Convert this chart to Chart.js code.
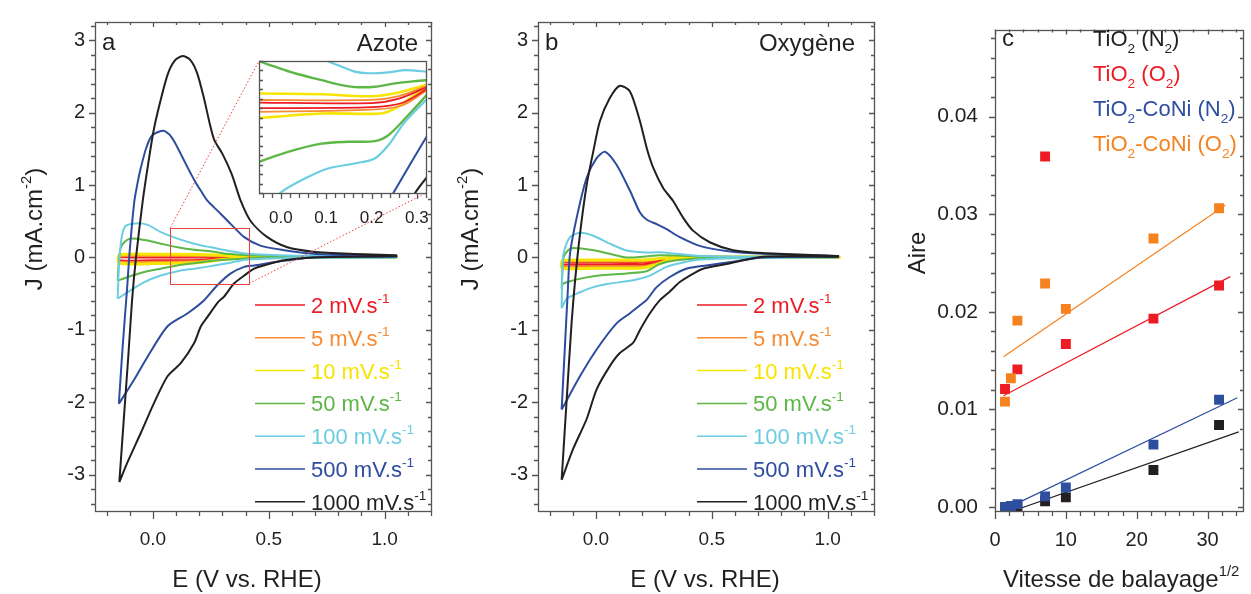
<!DOCTYPE html>
<html>
<head>
<meta charset="utf-8">
<script src="https://cdn.jsdelivr.net/npm/chart.js@4.4.1/dist/chart.umd.min.js"></script>
<style>
  html, body { margin: 0; padding: 0; background: #fff; }
  #wrap { position: relative; width: 1251px; height: 594px; }
  #wrap canvas { position: absolute; left: 0; top: 0; }
</style>
</head>
<body>
<div id="wrap">
  <canvas id="chartA" width="1251" height="594"></canvas>
  <canvas id="chartB" width="1251" height="594"></canvas>
  <canvas id="chartC" width="1251" height="594"></canvas>
  <canvas id="chartInset" width="1251" height="594"></canvas>
</div>
<script>
// ---------- data : cyclic voltammograms, [E (V vs RHE), J (mA/cm2)] ----------
const rateLabels = ['2', '5', '10', '50', '100', '500', '1000'];
const rateColors = ['#ed1c24', '#f68b33', '#f7e400', '#5db746', '#6ccde0', '#2e4c9e', '#231f20'];

// a : Azote
const azote2 = [[-0.15,-0.04],[-0.146,0.0],[-0.1,0.0],[0.0,0.0],[0.2,0.0],[0.3,0.01],[0.45,0.01],[1.05,0.01],[1.05,0.0],[0.45,0.0],[0.3,-0.01],[0.2,-0.035],[0.0,-0.04],[-0.1,-0.045],[-0.15,-0.04]];
const azote5 = [[-0.15,-0.06],[-0.146,0.01],[-0.1,0.02],[0.0,0.02],[0.2,0.018],[0.3,0.015],[0.45,0.01],[1.05,0.01],[1.05,0.0],[0.45,-0.003],[0.3,-0.02],[0.2,-0.05],[0.0,-0.06],[-0.1,-0.065],[-0.15,-0.06]];
const azote10 = [[-0.15,-0.08],[-0.146,0.03],[-0.1,0.045],[0.0,0.045],[0.2,0.04],[0.3,0.03],[0.45,0.01],[1.05,0.01],[1.05,0.0],[0.45,-0.005],[0.3,-0.03],[0.2,-0.07],[0.0,-0.085],[-0.1,-0.09],[-0.15,-0.08]];
const azote50 = [[-0.152,-0.32],[-0.148,-0.1],[-0.14,0.12],[-0.124,0.21],[-0.095,0.26],[-0.037,0.24],[0.034,0.19],[0.106,0.14],[0.178,0.105],[0.25,0.087],[0.32,0.05],[0.41,0.03],[0.6,0.015],[1.05,0.01],[1.05,0.0],[0.6,-0.002],[0.41,-0.01],[0.32,-0.03],[0.25,-0.05],[0.178,-0.08],[0.106,-0.11],[0.034,-0.155],[-0.037,-0.2],[-0.109,-0.27],[-0.152,-0.32]];
const azote100 = [[-0.152,-0.57],[-0.148,-0.2],[-0.14,0.15],[-0.13,0.35],[-0.116,0.44],[-0.073,0.47],[-0.023,0.45],[0.034,0.35],[0.106,0.26],[0.178,0.19],[0.25,0.14],[0.32,0.096],[0.41,0.05],[0.54,0.03],[0.7,0.02],[1.05,0.02],[1.05,0.0],[0.7,-0.005],[0.54,-0.01],[0.41,-0.03],[0.32,-0.08],[0.25,-0.12],[0.178,-0.155],[0.106,-0.19],[0.034,-0.25],[-0.037,-0.34],[-0.095,-0.45],[-0.152,-0.57]];
const azote500 = [[-0.147,-2.02],[-0.13,-1.2],[-0.112,-0.45],[-0.1,0.1],[-0.08,0.78],[-0.065,1.05],[-0.052,1.24],[-0.03,1.5],[-0.005,1.68],[0.042,1.75],[0.07,1.7],[0.092,1.6],[0.12,1.43],[0.15,1.24],[0.18,1.06],[0.207,0.92],[0.236,0.78],[0.293,0.6],[0.336,0.46],[0.394,0.28],[0.466,0.16],[0.566,0.1],[0.69,0.05],[0.85,0.03],[1.05,0.02],[1.05,0.01],[0.69,0.0],[0.537,-0.06],[0.437,-0.11],[0.394,-0.13],[0.336,-0.22],[0.279,-0.38],[0.221,-0.59],[0.15,-0.77],[0.063,-0.95],[-0.023,-1.37],[-0.08,-1.68],[-0.147,-2.02]];
const azote1000 = [[-0.145,-3.1],[-0.125,-2.2],[-0.106,-1.35],[-0.09,-0.59],[-0.073,0.0],[-0.044,0.78],[-0.023,1.24],[0.0,1.7],[0.02,2.0],[0.063,2.52],[0.095,2.72],[0.128,2.78],[0.16,2.73],[0.19,2.55],[0.22,2.2],[0.245,1.85],[0.265,1.62],[0.3,1.43],[0.34,1.15],[0.379,0.78],[0.422,0.5],[0.494,0.28],[0.58,0.14],[0.69,0.08],[0.85,0.05],[1.05,0.03],[1.05,0.02],[0.69,0.0],[0.566,-0.04],[0.48,-0.11],[0.437,-0.155],[0.394,-0.25],[0.35,-0.36],[0.307,-0.54],[0.28,-0.62],[0.24,-0.8],[0.207,-0.95],[0.178,-1.18],[0.12,-1.46],[0.063,-1.64],[0.006,-2.0],[-0.052,-2.42],[-0.11,-2.83],[-0.145,-3.1]];

// b : Oxygène
const oxy2 = [[-0.15,-0.1],[-0.146,-0.07],[-0.1,-0.07],[0.0,-0.07],[0.2,-0.07],[0.26,-0.04],[0.32,-0.005],[0.45,0.0],[1.05,0.0],[1.05,-0.003],[0.45,-0.005],[0.32,-0.02],[0.26,-0.07],[0.2,-0.1],[0.0,-0.1],[-0.1,-0.1],[-0.15,-0.1]];
const oxy5 = [[-0.15,-0.12],[-0.146,-0.06],[-0.1,-0.055],[0.0,-0.055],[0.2,-0.055],[0.26,-0.03],[0.32,-0.003],[0.45,0.003],[1.05,0.003],[1.05,-0.003],[0.45,-0.006],[0.32,-0.025],[0.26,-0.085],[0.2,-0.12],[0.0,-0.12],[-0.1,-0.125],[-0.15,-0.12]];
const oxy10 = [[-0.15,-0.15],[-0.146,-0.05],[-0.12,-0.035],[0.0,-0.035],[0.2,-0.035],[0.26,-0.02],[0.32,0.0],[0.45,0.005],[1.05,0.005],[1.05,0.0],[0.45,-0.005],[0.32,-0.03],[0.26,-0.1],[0.2,-0.145],[0.0,-0.15],[-0.12,-0.155],[-0.15,-0.15]];
const oxy50 = [[-0.148,-0.43],[-0.145,-0.2],[-0.14,0.0],[-0.12,0.1],[-0.098,0.13],[-0.011,0.1],[0.06,0.05],[0.132,0.0],[0.204,0.01],[0.276,0.03],[0.419,0.02],[0.6,0.01],[1.045,0.01],[1.045,0.0],[0.5,-0.005],[0.348,-0.04],[0.276,-0.09],[0.218,-0.19],[0.132,-0.22],[-0.011,-0.26],[-0.141,-0.36],[-0.148,-0.43]];
const oxy100 = [[-0.148,-0.7],[-0.145,-0.2],[-0.14,0.05],[-0.112,0.28],[-0.069,0.34],[-0.011,0.3],[0.06,0.19],[0.132,0.096],[0.204,0.07],[0.276,0.07],[0.348,0.05],[0.45,0.02],[0.7,0.01],[1.045,0.01],[1.045,0.0],[0.6,-0.01],[0.45,-0.03],[0.39,-0.06],[0.305,-0.13],[0.233,-0.25],[0.161,-0.315],[0.06,-0.36],[-0.011,-0.41],[-0.069,-0.48],[-0.126,-0.57],[-0.148,-0.7]];
const oxy500 = [[-0.148,-2.1],[-0.135,-1.3],[-0.122,-0.5],[-0.112,0.05],[-0.083,0.55],[-0.04,1.1],[0.003,1.37],[0.039,1.46],[0.089,1.28],[0.147,0.92],[0.19,0.62],[0.22,0.52],[0.262,0.46],[0.305,0.39],[0.362,0.28],[0.448,0.16],[0.563,0.09],[0.72,0.05],[1.045,0.02],[1.045,0.01],[0.72,0.0],[0.592,-0.06],[0.477,-0.11],[0.39,-0.155],[0.319,-0.27],[0.262,-0.41],[0.218,-0.59],[0.19,-0.66],[0.147,-0.77],[0.089,-0.91],[0.003,-1.27],[-0.069,-1.64],[-0.148,-2.1]];
const oxy1000 = [[-0.148,-3.07],[-0.125,-1.9],[-0.105,-0.9],[-0.09,-0.32],[-0.069,0.32],[-0.04,1.0],[-0.011,1.47],[0.017,1.88],[0.06,2.2],[0.103,2.37],[0.147,2.29],[0.19,1.88],[0.22,1.5],[0.247,1.24],[0.29,0.96],[0.333,0.78],[0.376,0.55],[0.419,0.37],[0.491,0.21],[0.592,0.1],[0.72,0.06],[1.045,0.02],[1.045,0.01],[0.72,0.01],[0.563,-0.09],[0.462,-0.155],[0.405,-0.25],[0.362,-0.34],[0.319,-0.47],[0.276,-0.59],[0.233,-0.77],[0.19,-1.0],[0.16,-1.18],[0.103,-1.32],[0.06,-1.5],[0.003,-1.82],[-0.04,-2.23],[-0.098,-2.64],[-0.148,-3.07]];

// inset of a (zoom on the low-rate region)
const insetRed = [[[-0.06,-0.012],[0.2,-0.014],[0.26,0.0],[0.33,0.042]], [[-0.06,-0.03],[0.2,-0.027],[0.27,-0.012],[0.33,0.038]]];
const insetOrange = [[[-0.06,-0.004],[0.2,-0.004],[0.26,0.008],[0.33,0.045]], [[-0.06,-0.042],[0.2,-0.035],[0.27,-0.02],[0.33,0.036]]];
const insetYellow = [[[-0.06,0.017],[0.09,0.014],[0.2,0.008],[0.26,0.02],[0.33,0.048]], [[-0.06,-0.063],[0.09,-0.047],[0.22,-0.047],[0.252,-0.031],[0.296,0.012],[0.33,0.04]]];
const insetGreen = [[[-0.06,0.135],[-0.048,0.12],[-0.013,0.102],[0.031,0.081],[0.09,0.059],[0.134,0.043],[0.163,0.037],[0.207,0.038],[0.252,0.049],[0.296,0.056],[0.33,0.06]], [[-0.06,-0.21],[-0.048,-0.201],[0.016,-0.169],[0.09,-0.143],[0.148,-0.137],[0.207,-0.135],[0.237,-0.116],[0.274,-0.063],[0.33,0.025]]];
const insetCyan = [[[0.08,0.145],[0.104,0.12],[0.134,0.102],[0.163,0.086],[0.193,0.081],[0.237,0.084],[0.274,0.091],[0.33,0.085]], [[-0.02,-0.33],[0.001,-0.297],[0.053,-0.254],[0.104,-0.222],[0.163,-0.206],[0.207,-0.19],[0.237,-0.148],[0.274,-0.073],[0.33,0.01]]];
const insetBlue = [[[0.235,-0.33],[0.248,-0.3],[0.288,-0.201],[0.33,-0.1]]];
const insetBlack = [[[0.29,-0.33],[0.296,-0.3],[0.33,-0.235]]];

// c : Aire vs sqrt(scan rate)
const sqrtRate = [1.41, 2.24, 3.16, 7.07, 10.0, 22.36, 31.62];
const aireTiO2N2 = [0.0000, 0.0001, 0.0001, 0.0006, 0.0010, 0.0038, 0.0084];
const aireTiO2O2 = [0.0121, null, 0.0141, 0.0359, 0.0167, 0.0193, 0.0227];
const aireCoNiN2 = [0.0000, 0.0001, 0.0003, 0.0011, 0.0020, 0.0064, 0.0110];
const aireCoNiO2 = [0.0108, 0.0132, 0.0191, 0.0229, 0.0203, 0.0275, 0.0306];
const fitTiO2N2 = [[2.6, -0.00037], [34.4, 0.0077]];
const fitTiO2O2 = [[1.2, 0.0114], [33.2, 0.0236]];
const fitCoNiN2 = [[2.0, 0.0000], [34.2, 0.0112]];
const fitCoNiO2 = [[1.2, 0.0154], [32.5, 0.0309]];
const seriesNames = [
  [{t: 'TiO'}, {t: '2', sub: true}, {t: ' (N'}, {t: '2', sub: true}, {t: ')'}],
  [{t: 'TiO'}, {t: '2', sub: true}, {t: ' (O'}, {t: '2', sub: true}, {t: ')'}],
  [{t: 'TiO'}, {t: '2', sub: true}, {t: '-CoNi (N'}, {t: '2', sub: true}, {t: ')'}],
  [{t: 'TiO'}, {t: '2', sub: true}, {t: '-CoNi (O'}, {t: '2', sub: true}, {t: ')'}],
];
const seriesColors = ['#231f20', '#ed1c24', '#2e4fa0', '#f5821f'];

// ---------- helpers ----------
const FONT = "'Liberation Sans', Arial, Helvetica, sans-serif";
const INK = '#231f20';
const AXIS = '#555555';
Chart.defaults.font.family = FONT;
Chart.defaults.color = INK;

const toXY = arr => arr.map(p => ({ x: p[0], y: p[1] }));
const zipXY = (xs, ys) => xs.map((x, i) => ({ x, y: ys[i] })).filter(p => p.y !== null);

function drawRich(ctx, parts, x, y, size, color, align) {
  let w = 0;
  const m = parts.map(p => {
    const s = (p.sup || p.sub) ? size * 0.62 : size;
    ctx.font = s + 'px ' + FONT;
    const pw = ctx.measureText(p.t).width;
    w += pw;
    return { p, s, pw };
  });
  let cx = align === 'center' ? x - w / 2 : align === 'right' ? x - w : x;
  const base = y + size * 0.36;
  ctx.fillStyle = color;
  ctx.textAlign = 'left';
  ctx.textBaseline = 'alphabetic';
  m.forEach(({ p, s, pw }) => {
    ctx.font = s + 'px ' + FONT;
    const dy = p.sup ? -size * 0.45 : p.sub ? size * 0.33 : 0;
    ctx.fillText(p.t, cx, base + dy);
    cx += pw;
  });
}

// box + ticks on the four sides
function makeFrame(cfg) {
  return {
    id: 'frame',
    afterDraw(chart) {
      const { ctx, chartArea: a, scales: { x, y } } = chart;
      ctx.save();
      ctx.strokeStyle = cfg.color || AXIS;
      ctx.lineWidth = cfg.width || 1.3;
      ctx.strokeRect(Math.round(a.left) + 0.5, Math.round(a.top) + 0.5, Math.round(a.right - a.left), Math.round(a.bottom - a.top));
      ctx.beginPath();
      const walk = (scale, minor, major, fn) => {
        const k0 = Math.ceil(scale.min / minor - 1e-6);
        for (let k = k0; k * minor <= scale.max + 1e-9; k++) {
          const v = k * minor;
          const isMajor = major ? Math.abs(v / major - Math.round(v / major)) < 1e-6 : false;
          fn(Math.round(scale.getPixelForValue(v)) + 0.5, isMajor);
        }
      };
      walk(x, cfg.xMinor, cfg.xMajor, (px, mj) => {
        const l = mj ? cfg.xOut[0] : cfg.xOut[1];
        ctx.moveTo(px, a.bottom); ctx.lineTo(px, a.bottom + l);
        if (cfg.inner) { const li = mj ? 5 : 3; ctx.moveTo(px, a.top); ctx.lineTo(px, a.top + li); }
      });
      walk(y, cfg.yMinor, cfg.yMajor, (py, mj) => {
        const l = mj ? cfg.yOut[0] : cfg.yOut[1];
        ctx.moveTo(a.left, py); ctx.lineTo(a.left + (cfg.yInward ? l : -l), py);
        if (cfg.inner) { const li = mj ? 5 : 3; ctx.moveTo(a.right, py); ctx.lineTo(a.right - li, py); }
      });
      ctx.stroke();
      ctx.restore();
    }
  };
}

function makeDecor(drawFn) {
  return { id: 'decor', afterDraw(chart) { const ctx = chart.ctx; ctx.save(); drawFn(chart, ctx); ctx.restore(); } };
}

function cvDatasets(loops) {
  const widths = [2, 2, 3, 2, 2, 2, 2];
  return loops.map((loop, i) => ({
    data: toXY(loop), showLine: true, borderColor: rateColors[i], borderWidth: widths[i],
    pointRadius: 0, tension: 0.25, fill: false
  })).reverse();
}

function cvOptions(left, right) {
  return {
    responsive: false, animation: false, devicePixelRatio: 1,
    layout: { padding: { left: left - 60, right: 1251 - right, top: 19, bottom: 33 } },
    plugins: { legend: { display: false }, tooltip: { enabled: false } },
    scales: {
      x: {
        type: 'linear', min: -0.25, max: 1.2,
        afterFit: s => { s.height = 50; },
        grid: { display: false, drawTicks: false }, border: { display: false },
        ticks: { stepSize: 0.5, includeBounds: false, padding: 17, maxRotation: 0, font: { size: 19 }, callback: v => v.toFixed(1) }
      },
      y: {
        type: 'linear', min: -3.5, max: 3.25,
        afterFit: s => { s.width = 60; },
        grid: { display: false, drawTicks: false }, border: { display: false },
        ticks: { stepSize: 1, includeBounds: false, padding: 10, font: { size: 20 }, callback: v => String(v) }
      }
    }
  };
}

function drawCvText(ctx, o) {
  drawRich(ctx, [{ t: o.letter }], o.letterX, 41, 24, INK, 'left');
  drawRich(ctx, [{ t: o.gas }], o.gasX, 42, 24, INK, 'right');
  ctx.save();
  ctx.translate(o.yTitleX, 229);
  ctx.rotate(-Math.PI / 2);
  drawRich(ctx, [{ t: 'J (mA.cm' }, { t: '-2', sup: true }, { t: ')' }], 0, 0, 24, INK, 'center');
  ctx.restore();
  drawRich(ctx, [{ t: 'E (V vs. RHE)' }], o.xTitleX, 578, 24, INK, 'center');
  rateLabels.forEach((r, i) => {
    const yy = 305 + i * 32.8;
    ctx.strokeStyle = rateColors[i];
    ctx.lineWidth = 1.5;
    ctx.beginPath(); ctx.moveTo(o.legX, yy); ctx.lineTo(o.legX + 50, yy); ctx.stroke();
    drawRich(ctx, [{ t: r + ' mV.s' }, { t: '-1', sup: true }], o.legX + 56, yy, 22, rateColors[i], 'left');
  });
}

// ---------- panel a ----------
new Chart(document.getElementById('chartA'), {
  type: 'scatter',
  data: { datasets: cvDatasets([azote2, azote5, azote10, azote50, azote100, azote500, azote1000]) },
  options: cvOptions(95, 431),
  plugins: [
    makeFrame({ xMinor: 0.1, xMajor: 0.5, yMinor: 0.2, yMajor: 1, xOut: [8, 5], yOut: [6, 4], inner: true }),
    makeDecor((chart, ctx) => {
      const { x, y } = chart.scales;
      // zoom box and its link to the inset
      const bx0 = x.getPixelForValue(0.075), bx1 = x.getPixelForValue(0.415);
      const by0 = y.getPixelForValue(0.41), by1 = y.getPixelForValue(-0.36);
      ctx.strokeStyle = '#e8403a'; ctx.lineWidth = 1;
      ctx.strokeRect(Math.round(bx0) + 0.5, Math.round(by0) + 0.5, Math.round(bx1 - bx0), Math.round(by1 - by0));
      ctx.setLineDash([1.5, 2]);
      ctx.beginPath();
      ctx.moveTo(bx0, by0); ctx.lineTo(259, 61);
      ctx.moveTo(bx1, by1); ctx.lineTo(426, 193);
      ctx.stroke();
      ctx.setLineDash([]);
      drawCvText(ctx, { letter: 'a', letterX: 102, gas: 'Azote', gasX: 418, yTitleX: 33, xTitleX: 247, legX: 255 });
    })
  ]
});

// ---------- panel b ----------
new Chart(document.getElementById('chartB'), {
  type: 'scatter',
  data: { datasets: cvDatasets([oxy2, oxy5, oxy10, oxy50, oxy100, oxy500, oxy1000]) },
  options: cvOptions(538, 874),
  plugins: [
    makeFrame({ xMinor: 0.1, xMajor: 0.5, yMinor: 0.2, yMajor: 1, xOut: [8, 5], yOut: [6, 4], inner: true }),
    makeDecor((chart, ctx) => {
      drawCvText(ctx, { letter: 'b', letterX: 545, gas: 'Oxygène', gasX: 855, yTitleX: 469, xTitleX: 705, legX: 697 });
    })
  ]
});

// ---------- panel c ----------
const ptStyle = (c) => ({ showLine: false, pointStyle: 'rect', pointRadius: 7, pointBackgroundColor: c, pointBorderColor: c, pointBorderWidth: 0 });
const fitStyle = (c) => ({ showLine: true, pointRadius: 0, borderColor: c, borderWidth: 1.2, tension: 0 });
new Chart(document.getElementById('chartC'), {
  type: 'scatter',
  data: {
    datasets: [
      { data: zipXY(sqrtRate, aireCoNiO2), ...ptStyle(seriesColors[3]) },
      { data: zipXY(sqrtRate, aireCoNiN2), ...ptStyle(seriesColors[2]) },
      { data: zipXY(sqrtRate, aireTiO2O2), ...ptStyle(seriesColors[1]) },
      { data: zipXY(sqrtRate, aireTiO2N2), ...ptStyle(seriesColors[0]) },
      { data: toXY(fitCoNiO2), ...fitStyle(seriesColors[3]) },
      { data: toXY(fitCoNiN2), ...fitStyle(seriesColors[2]) },
      { data: toXY(fitTiO2O2), ...fitStyle(seriesColors[1]) },
      { data: toXY(fitTiO2N2), ...fitStyle(seriesColors[0]) },
    ]
  },
  options: {
    responsive: false, animation: false, devicePixelRatio: 1,
    layout: { padding: { left: 995 - 60, right: 1251 - 1243, top: 19, bottom: 33 } },
    plugins: { legend: { display: false }, tooltip: { enabled: false } },
    scales: {
      x: {
        type: 'linear', min: 0, max: 35,
        afterFit: s => { s.height = 50; },
        grid: { display: false, drawTicks: false }, border: { display: false },
        ticks: { stepSize: 10, includeBounds: false, padding: 17, maxRotation: 0, font: { size: 20 } }
      },
      y: {
        type: 'linear', min: -0.0004, max: 0.0489,
        afterFit: s => { s.width = 60; },
        grid: { display: false, drawTicks: false }, border: { display: false },
        ticks: { stepSize: 0.01, includeBounds: false, padding: 17, font: { size: 21 }, callback: v => v.toFixed(2) }
      }
    }
  },
  plugins: [
    makeFrame({ xMinor: 2, xMajor: 10, yMinor: 0.002, yMajor: 0.01, xOut: [8, 5], yOut: [6, 4], inner: true }),
    makeDecor((chart, ctx) => {
      drawRich(ctx, [{ t: 'c' }], 1002, 37, 24, INK, 'left');
      seriesNames.forEach((parts, i) => drawRich(ctx, parts, 1093, 38 + i * 35, 22, seriesColors[i], 'left'));
      ctx.save();
      ctx.translate(916, 253);
      ctx.rotate(-Math.PI / 2);
      drawRich(ctx, [{ t: 'Aire' }], 0, 0, 24, INK, 'center');
      ctx.restore();
      drawRich(ctx, [{ t: 'Vitesse de balayage' }, { t: '1/2', sup: true }], 1003, 578, 24, INK, 'left');
    })
  ]
});

// ---------- inset of panel a ----------
const insetSets = [];
[[insetYellow, rateColors[2], 2.6], [insetOrange, rateColors[1], 1.8], [insetRed, rateColors[0], 1.8],
 [insetGreen, rateColors[3], 2.4], [insetCyan, rateColors[4], 2.2], [insetBlue, rateColors[5], 2], [insetBlack, rateColors[6], 2]]
  .forEach(([branches, color, w]) => branches.forEach(b => insetSets.unshift({
    data: toXY(b), showLine: true, borderColor: color, borderWidth: w, pointRadius: 0, tension: 0.3
  })));
new Chart(document.getElementById('chartInset'), {
  type: 'scatter',
  data: { datasets: insetSets },
  options: {
    responsive: false, animation: false, devicePixelRatio: 1,
    layout: { padding: { left: 259, right: 1251 - 426, top: 61, bottom: 594 - 193 - 40 } },
    plugins: { legend: { display: false }, tooltip: { enabled: false } },
    scales: {
      x: {
        type: 'linear', min: -0.048, max: 0.32,
        afterFit: s => { s.height = 40; },
        grid: { display: false, drawTicks: false }, border: { display: false },
        ticks: { stepSize: 0.1, includeBounds: false, padding: 15, maxRotation: 0, font: { size: 17 }, callback: v => v.toFixed(1) }
      },
      y: { type: 'linear', min: -0.3, max: 0.12, display: false }
    }
  },
  plugins: [
    { id: 'insetBg', beforeDatasetsDraw(chart) {
        const { ctx, chartArea: a } = chart;
        ctx.save(); ctx.fillStyle = '#fff'; ctx.fillRect(a.left, a.top, a.right - a.left, a.bottom - a.top); ctx.restore();
      } },
    makeFrame({ xMinor: 0.02, xMajor: 0.1, yMinor: 0.03, yMajor: 0, xOut: [6, 5], yOut: [4, 4], yInward: true, inner: false })
  ]
});
</script>
</body>
</html>
